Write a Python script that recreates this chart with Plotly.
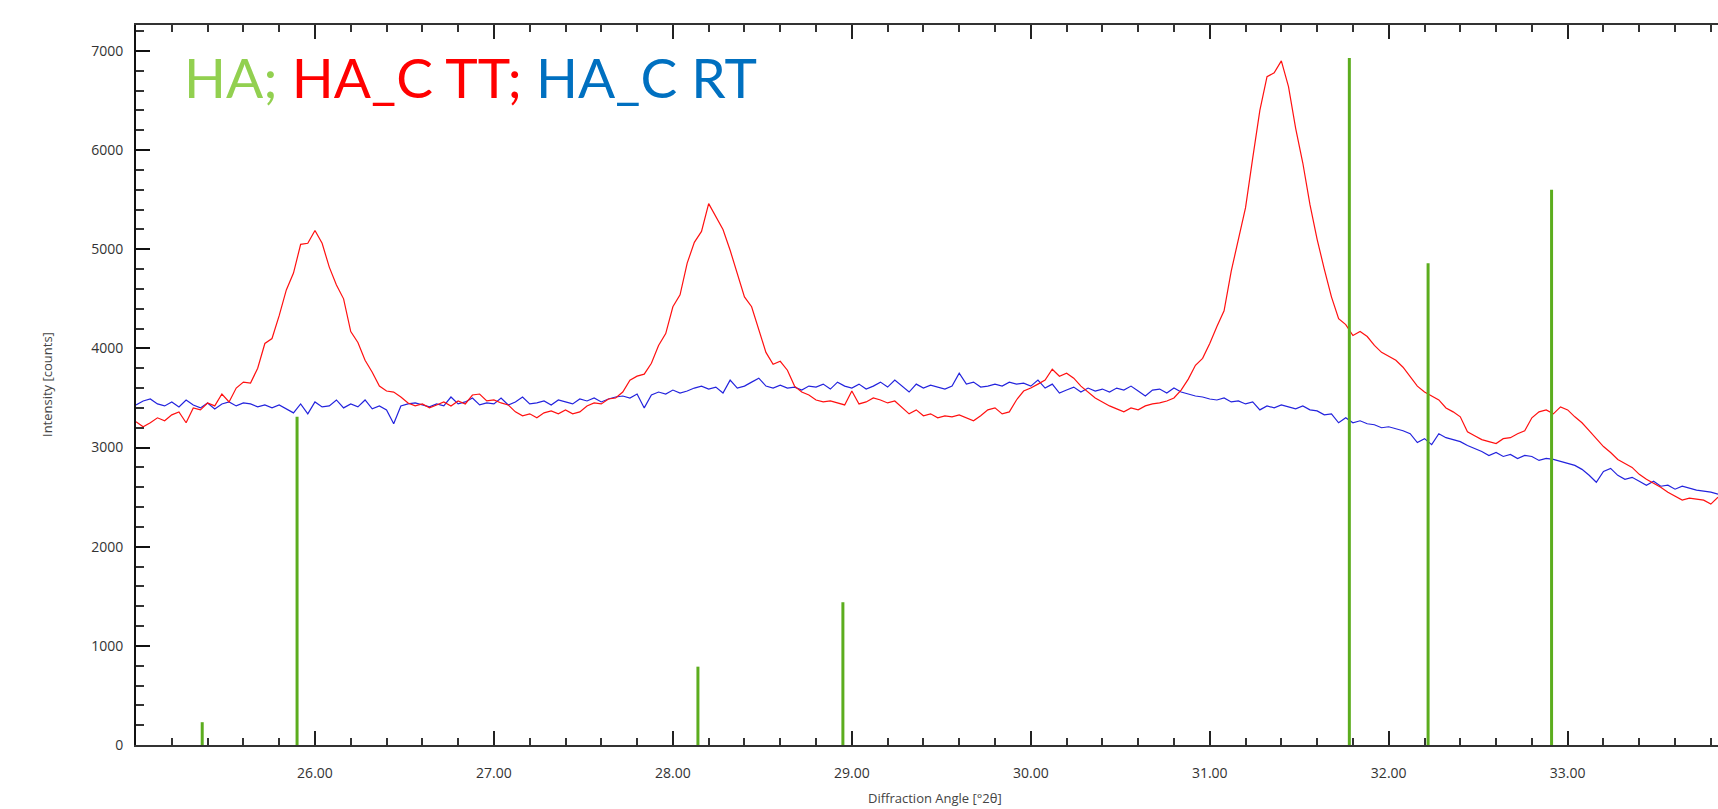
import numpy as np
import plotly.graph_objects as go

# Scan grid (2theta, degrees)
START = 25.00
STEP = 0.04

# HA_C TT (red) intensity, counts, one value per grid step
tt_counts = [
    3260, 3210, 3250, 3300, 3270, 3330, 3360, 3250, 3400, 3380,
    3450, 3420, 3540, 3460, 3600, 3660, 3650, 3800, 4050, 4100,
    4330, 4590, 4760, 5050, 5060, 5190, 5060, 4820, 4640, 4500,
    4170, 4060, 3880, 3760, 3620, 3570, 3560, 3510, 3450, 3420,
    3440, 3400, 3430, 3460, 3420, 3470, 3440, 3530, 3540, 3470,
    3480, 3450, 3430, 3360, 3320, 3340, 3300, 3350, 3370, 3340,
    3380, 3340, 3360, 3420, 3450, 3440, 3490, 3500, 3560, 3680,
    3720, 3740, 3850, 4030, 4150, 4420, 4540, 4860, 5070, 5180,
    5460, 5330, 5200, 4990, 4760, 4520, 4420, 4180, 3960, 3840,
    3870, 3780, 3620, 3560, 3530, 3480, 3460, 3470, 3450, 3430,
    3570, 3440, 3460, 3500, 3480, 3450, 3470, 3400, 3340, 3380,
    3320, 3340, 3300, 3320, 3310, 3330, 3300, 3270, 3320, 3380,
    3400, 3340, 3360, 3480, 3570, 3600, 3640, 3680, 3790, 3720,
    3750, 3700, 3620, 3560, 3500, 3460, 3420, 3390, 3360, 3400,
    3380, 3420, 3440, 3450, 3470, 3500, 3580, 3690, 3830, 3900,
    4050, 4220, 4380, 4780, 5090, 5420, 5920, 6400, 6740, 6780,
    6900, 6640, 6220, 5870, 5450, 5100, 4800, 4520, 4300, 4240,
    4130, 4170, 4120, 4030, 3960, 3920, 3880, 3810, 3720, 3620,
    3560, 3520, 3480, 3400, 3360, 3310, 3160, 3120, 3080, 3060,
    3040, 3090, 3100, 3140, 3170, 3300, 3360, 3380, 3340, 3410,
    3380, 3310, 3250, 3170, 3090, 3010, 2950, 2880, 2840, 2800,
    2730, 2680, 2640, 2600, 2550, 2510, 2470, 2490, 2480, 2470,
    2430, 2500,
]

# HA_C RT (blue) intensity, counts
rt_counts = [
    3430, 3470, 3490, 3440, 3420, 3460, 3410, 3480, 3430, 3400,
    3450, 3390, 3440, 3460, 3420, 3450, 3440, 3410, 3430, 3400,
    3430, 3390, 3350, 3440, 3340, 3460, 3410, 3420, 3480, 3400,
    3440, 3410, 3480, 3390, 3420, 3380, 3240, 3420, 3440, 3450,
    3430, 3410, 3440, 3420, 3510, 3440, 3460, 3500, 3430, 3450,
    3440, 3500, 3430, 3460, 3510, 3440, 3450, 3470, 3430, 3480,
    3460, 3440, 3490, 3470, 3500, 3460, 3490, 3510, 3520, 3500,
    3540, 3400, 3530, 3560, 3540, 3580, 3550, 3570, 3600, 3620,
    3590, 3610, 3550, 3680, 3600, 3620, 3660, 3700, 3620, 3600,
    3630, 3600, 3610, 3580, 3620, 3610, 3640, 3590, 3660, 3620,
    3600, 3640, 3590, 3620, 3660, 3610, 3680, 3620, 3560, 3640,
    3600, 3630, 3610, 3590, 3620, 3750, 3640, 3660, 3610, 3620,
    3640, 3620, 3660, 3640, 3650, 3620, 3680, 3600, 3640, 3550,
    3580, 3610, 3560, 3600, 3570, 3590, 3560, 3600, 3580, 3620,
    3570, 3520, 3580, 3590, 3550, 3600, 3560, 3540, 3520, 3510,
    3490, 3480, 3500, 3460, 3470, 3440, 3460, 3380, 3420, 3400,
    3430, 3410, 3390, 3420, 3380, 3370, 3330, 3340, 3250, 3300,
    3250, 3270, 3240, 3230, 3200, 3210, 3190, 3170, 3140, 3050,
    3090, 3030, 3140, 3100, 3080, 3060, 3020, 2990, 2960, 2920,
    2950, 2910, 2930, 2890, 2920, 2910, 2870, 2890, 2880, 2860,
    2840, 2820, 2780, 2720, 2650, 2760, 2790, 2720, 2680, 2700,
    2660, 2620, 2660, 2610, 2620, 2580, 2610, 2590, 2570, 2560,
    2550, 2530,
]

# HA reference pattern (stick lines)
ha_pos = [25.37, 25.90, 28.14, 28.95, 31.78, 32.22, 32.91]
ha_int = [230, 3310, 790, 1440, 6930, 4860, 5600]

x_tick_vals = [26, 27, 28, 29, 30, 31, 32, 33]
x_tick_text = ["26.00", "27.00", "28.00", "29.00", "30.00", "31.00", "32.00", "33.00"]
y_tick_vals = [0, 1000, 2000, 3000, 4000, 5000, 6000, 7000]
y_tick_text = ["0", "1000", "2000", "3000", "4000", "5000", "6000", "7000"]

x_tt = START + STEP * np.arange(len(tt_counts))
x_rt = START + STEP * np.arange(len(rt_counts))

stick_x, stick_y = [], []
for p, h in zip(ha_pos, ha_int):
    stick_x += [p, p, None]
    stick_y += [0, h, None]

fig = go.Figure()
fig.add_trace(go.Scatter(x=x_rt, y=rt_counts, mode="lines",
                         line=dict(color="#2323DD", width=1.2), name="HA_C RT"))
fig.add_trace(go.Scatter(x=x_tt, y=tt_counts, mode="lines",
                         line=dict(color="#FF1010", width=1.2), name="HA_C TT"))
fig.add_trace(go.Scatter(x=stick_x, y=stick_y, mode="lines",
                         line=dict(color="#5CAD1E", width=3), name="HA"))

tick_font = dict(family="Open Sans", size=14, color="#333333")

fig.update_layout(
    width=1718, height=809,
    margin=dict(l=136, r=0, t=25, b=64),
    paper_bgcolor="white", plot_bgcolor="white",
    showlegend=False,
    xaxis=dict(
        range=[25.0, 33.84], tickmode="array", tickvals=x_tick_vals, ticktext=x_tick_text,
        ticks="inside", ticklen=14, tickwidth=2, tickcolor="#222",
        showline=True, linecolor="#333", linewidth=2, mirror="ticks",
        showgrid=False, zeroline=False, tickfont=tick_font,
        ticklabelstandoff=14,
        minor=dict(tick0=25.0, dtick=0.2, ticks="inside", ticklen=7,
                   tickwidth=2, tickcolor="#333", showgrid=False),
    ),
    yaxis=dict(
        range=[0, 7262], tickmode="array", tickvals=y_tick_vals, ticktext=y_tick_text,
        ticks="inside", ticklen=14, tickwidth=2, tickcolor="#111",
        showline=True, linecolor="#111", linewidth=2,
        showgrid=False, zeroline=False, tickfont=tick_font,
        ticklabelstandoff=8,
        minor=dict(tick0=0, dtick=200, ticks="inside", ticklen=8,
                   tickwidth=2, tickcolor="#333", showgrid=False),
    ),
    annotations=[
        dict(xref="paper", yref="paper", x=0, y=0.5, xshift=-89,
             text="Intensity [counts]", textangle=-90, showarrow=False,
             font=dict(family="Open Sans", size=13, color="#444"),
             xanchor="center", yanchor="middle"),
        dict(xref="paper", yref="paper", x=0, y=0, xshift=799, yshift=-53,
             text="Diffraction Angle [°2θ]", showarrow=False,
             font=dict(family="Open Sans", size=13, color="#444"),
             xanchor="center", yanchor="middle"),
        dict(xref="paper", yref="paper", x=0, y=1, xshift=46, yshift=-17,
             xanchor="left", yanchor="top", showarrow=False,
             text='<span style="color:#92D050">HA;</span> '
                  '<span style="color:#FF0000">HA_C TT;</span> '
                  '<span style="color:#0070C0">HA_C RT</span>',
             font=dict(family="Lato", size=55)),
    ],
)

fig.write_html("out.html")
